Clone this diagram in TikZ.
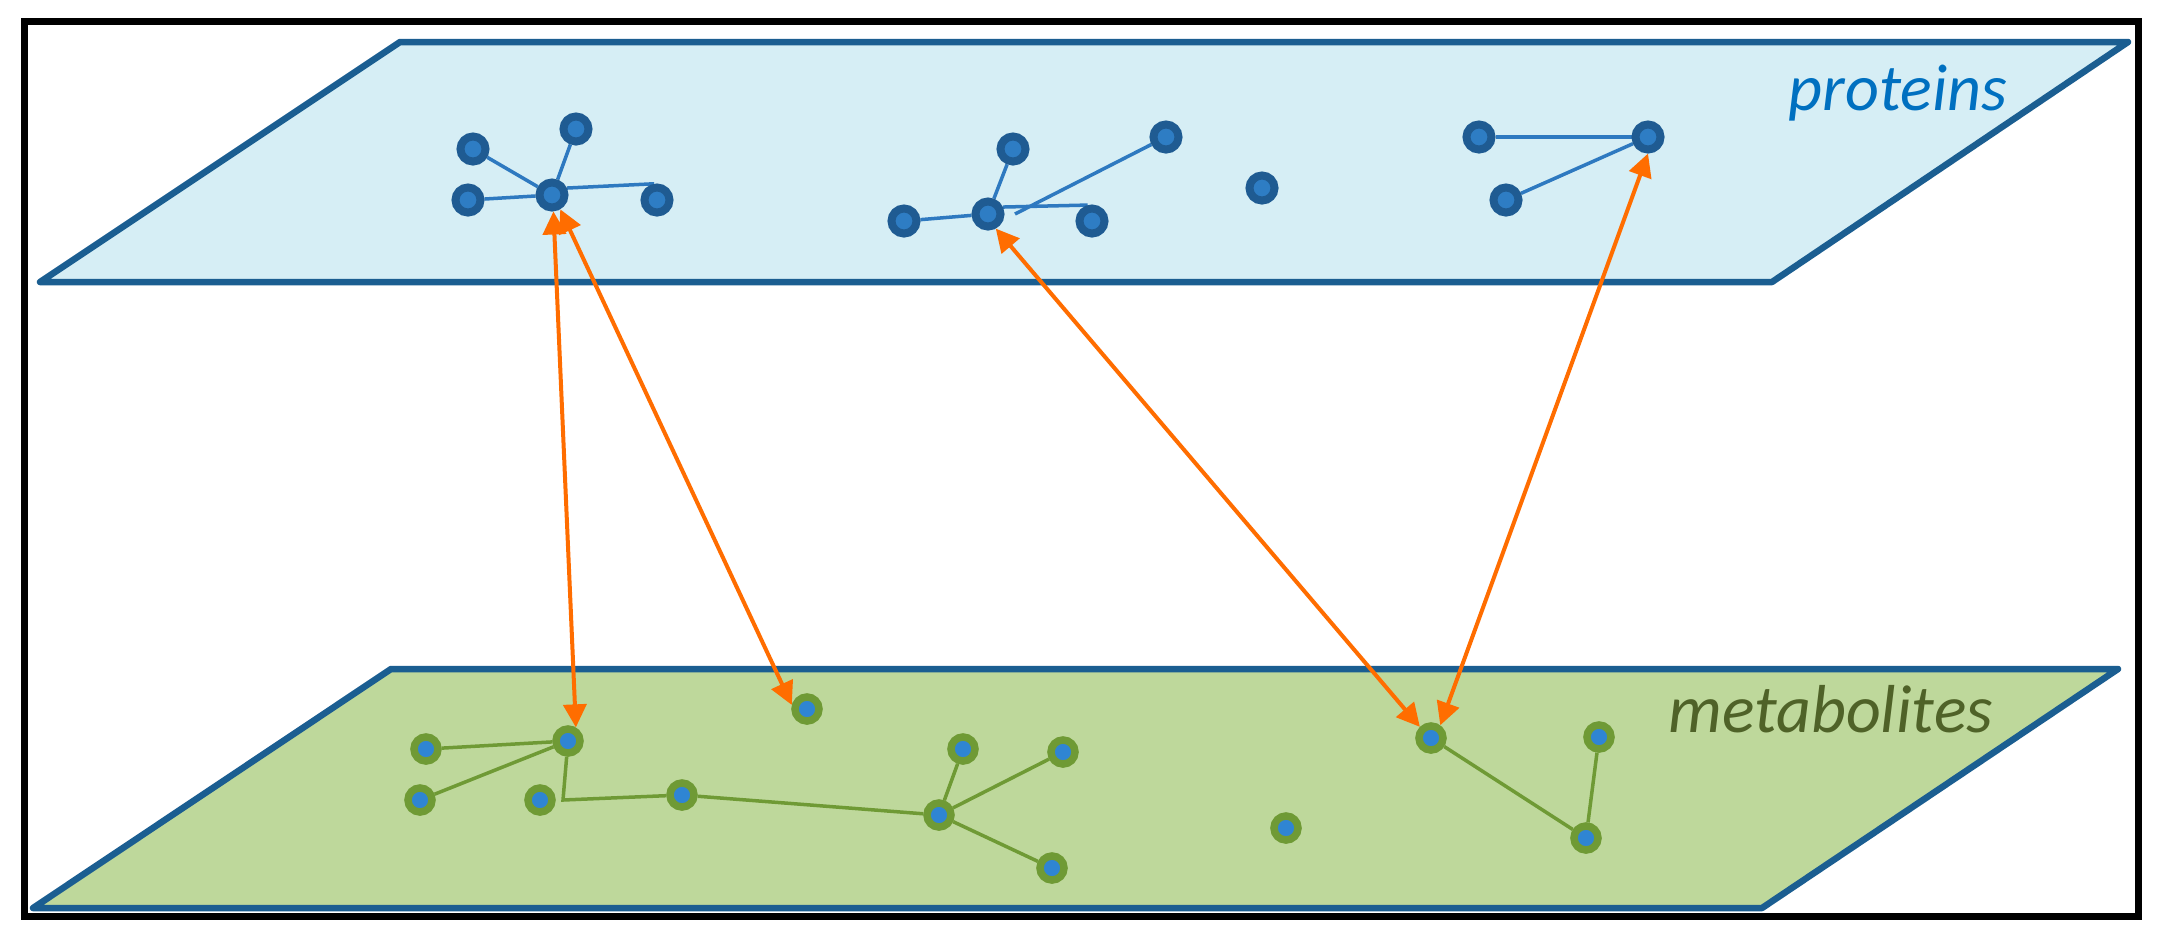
\documentclass[tikz,border=0pt]{standalone}
\usepackage{fontspec}
\setmainfont{Carlito}
\usetikzlibrary{arrows.meta}
\pgfdeclarelayer{planes}
\pgfdeclarelayer{edges}
\pgfsetlayers{planes,edges,main}
\definecolor{pfill}{HTML}{D6EEF5}
\definecolor{planeline}{HTML}{1B5E91}
\definecolor{mfill}{HTML}{BED89B}
\definecolor{pring}{HTML}{1F5B92}
\definecolor{pcore}{HTML}{2E7DC4}
\definecolor{pedge}{HTML}{2E79C0}
\definecolor{mring}{HTML}{6F9A35}
\definecolor{mcore}{HTML}{2F85D3}
\definecolor{medge}{HTML}{6F9A35}
\definecolor{orng}{HTML}{FF6D00}
\definecolor{ptext}{HTML}{0070C0}
\definecolor{mtext}{HTML}{4F6228}
\tikzset{
  prot/.style={circle, inner sep=0pt, minimum size=0.25cm, line width=0.08cm, draw=pring, fill=pcore},
  metab/.style={circle, inner sep=0pt, minimum size=0.24cm, line width=0.075cm, draw=mring, fill=mcore},
  pline/.style={line width=0.035cm, draw=pedge},
  mline/.style={line width=0.035cm, draw=medge},
  plane/.style={line width=0.065cm, draw=planeline, line join=round},
  link/.style={line width=0.04cm, draw=orng, {Triangle[length=0.23cm,width=0.23cm]}-{Triangle[length=0.23cm,width=0.23cm]}},
  lbl/.style={inner sep=0pt, anchor=base west, font=\fontsize{18.8}{20}\selectfont\itshape}
}
\begin{document}
\begin{tikzpicture}[x=0.01cm, y=-0.01cm]
\useasboundingbox (0,0) rectangle (2163,941);
\begin{pgfonlayer}{planes}
\fill[white] (0,0) rectangle (2163,941);
\draw[line width=0.075cm, black] (24.5,21.5) rectangle (2138.5,916.5);
\path[plane, fill=pfill] (400,42) -- (2128,42) -- (1772,282) -- (40,282) -- cycle;
\path[plane, fill=mfill] (391,669) -- (2118,669) -- (1762,908) -- (33,908) -- cycle;
\end{pgfonlayer}
\node[lbl, text=ptext] (ptxt) at (1788,110) {proteins};
\node[lbl, text=mtext, font=\fontsize{19.3}{21}\selectfont\itshape] (mtxt) at (1668,732) {metabolites};
% protein nodes
\node[prot] (A1) at (473,149) {};
\node[prot] (A2) at (576,129) {};
\node[prot] (A3) at (468,200) {};
\node[prot] (H1) at (552,195) {};
\node[prot] (A4) at (657,200) {};
\node[prot] (B1) at (1013,149) {};
\node[prot] (B2) at (1166,137) {};
\node[prot] (B3) at (904,221) {};
\node[prot] (H2) at (988,214) {};
\node[prot] (B4) at (1092,221) {};
\node[prot] (C1) at (1262,188) {};
\node[prot] (D1) at (1479,137) {};
\node[prot] (D2) at (1648,137) {};
\node[prot] (D3) at (1506,200) {};
\coordinate (b2end) at (1015,214);
% metabolite nodes
\node[metab] (M1) at (426,749) {};
\node[metab] (M2) at (420,800) {};
\node[metab] (MH) at (568,741) {};
\node[metab] (M3) at (540,800) {};
\node[metab] (M4) at (682,795) {};
\node[metab] (M5) at (807,709) {};
\node[metab] (N1) at (963,749) {};
\node[metab] (N2) at (1063,752) {};
\node[metab] (MH2) at (939,815) {};
\node[metab] (N3) at (1052,868) {};
\node[metab] (N4) at (1286,828) {};
\node[metab] (P1) at (1431,738) {};
\node[metab] (P2) at (1599,737) {};
\node[metab] (P3) at (1586,838) {};
\coordinate (mc) at (563,800);
\begin{pgfonlayer}{edges}
\draw[pline] (A1) -- (H1);
\draw[pline] (A3) -- (H1);
\draw[pline] (A2) -- (H1);
\draw[pline] (H1.25) -- (A4.100);
\draw[pline] (B3) -- (H2);
\draw[pline] (B1) -- (H2);
\draw[pline] (H2.25) -- (B4.105);
\draw[pline] (B2) -- (b2end);
\draw[pline] (D1) -- (D2);
\draw[pline] (D3) -- (D2);
\draw[mline] (M1) -- (MH);
\draw[mline] (M2) -- (MH);
\draw[mline] (MH) -- (mc) -- (M4);
\draw[mline] (M4) -- (MH2);
\draw[mline] (N1) -- (MH2);
\draw[mline] (N2) -- (MH2);
\draw[mline] (MH2) -- (N3);
\draw[mline] (P1) -- (P3);
\draw[mline] (P2) -- (P3);
\end{pgfonlayer}
% cross-layer links
\draw[link] (H1.-85) -- (MH.60);
\draw[link] (H1.-60) -- (M5.165);
\draw[link] (H2.-62) -- (P1.135);
\draw[link] (D2.-90) -- (P1.54);
\end{tikzpicture}
\end{document}
